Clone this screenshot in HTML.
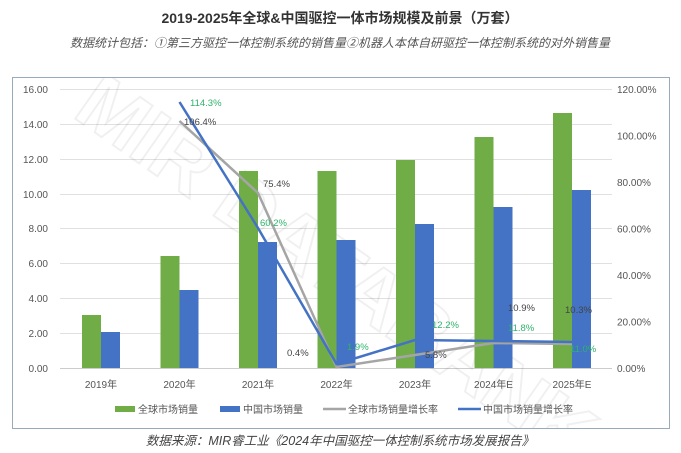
<!DOCTYPE html>
<html><head><meta charset="utf-8"><style>
body{margin:0;background:#fff;width:681px;height:453px;overflow:hidden;font-family:"Liberation Sans","Noto Sans CJK SC",sans-serif;}
svg{display:block}
</style></head><body>
<svg width="681" height="453" xmlns="http://www.w3.org/2000/svg" font-family="Liberation Sans, Noto Sans CJK SC, sans-serif">
<defs><clipPath id="c"><rect x="13" y="78" width="656" height="350"/></clipPath></defs>
<text x="340" y="23" text-anchor="middle" font-size="14" font-weight="bold" fill="#333">2019-2025年全球&amp;中国驱控一体市场规模及前景（万套）</text>
<text x="340" y="47" text-anchor="middle" font-size="12" font-style="italic" fill="#555">数据统计包括：①第三方驱控一体控制系统的销售量②机器人本体自研驱控一体控制系统的对外销售量</text>
<rect x="12.5" y="77.5" width="657" height="351" fill="none" stroke="#9ab" stroke-width="1"/>
<g stroke="#e0e0e0" stroke-width="1">
<line x1="60" x2="612" y1="89.5" y2="89.5"/><line x1="60" x2="612" y1="124.5" y2="124.5"/><line x1="60" x2="612" y1="159.5" y2="159.5"/><line x1="60" x2="612" y1="194.5" y2="194.5"/><line x1="60" x2="612" y1="228.5" y2="228.5"/><line x1="60" x2="612" y1="263.5" y2="263.5"/><line x1="60" x2="612" y1="298.5" y2="298.5"/><line x1="60" x2="612" y1="333.5" y2="333.5"/>
</g>
<line x1="60" x2="612" y1="368.5" y2="368.5" stroke="#ccc"/>
<g font-size="10" fill="#555" text-anchor="end">
<text x="48" y="93">16.00</text><text x="48" y="128">14.00</text><text x="48" y="163">12.00</text><text x="48" y="198">10.00</text><text x="48" y="232">8.00</text><text x="48" y="267">6.00</text><text x="48" y="302">4.00</text><text x="48" y="337">2.00</text><text x="48" y="372">0.00</text>
</g>
<g font-size="10" fill="#555" text-anchor="start">
<text x="617" y="93">120.00%</text><text x="617" y="139.5">100.00%</text><text x="617" y="186">80.00%</text><text x="617" y="232.5">60.00%</text><text x="617" y="279">40.00%</text><text x="617" y="325.5">20.00%</text><text x="617" y="372">0.00%</text>
</g>
<g clip-path="url(#c)">
<text x="60" y="150" font-size="80" fill="none" stroke="#000" stroke-opacity="0.06" stroke-width="2" transform="rotate(35 120 150)" font-weight="bold">MIR DATABANK</text>
</g>
<g fill="#70ad47">
<rect x="82" y="315" width="19" height="53"/><rect x="160.5" y="256" width="19" height="112"/><rect x="239" y="171" width="19" height="197"/><rect x="317.5" y="171" width="19" height="197"/><rect x="396" y="160" width="19" height="208"/><rect x="474.5" y="137" width="19" height="231"/><rect x="553" y="113" width="19" height="255"/>
</g>
<g fill="#4472c4">
<rect x="101" y="332" width="19" height="36"/><rect x="179.5" y="290" width="19" height="78"/><rect x="258" y="242" width="19" height="126"/><rect x="336.5" y="240" width="19" height="128"/><rect x="415" y="224" width="19" height="144"/><rect x="493.5" y="207" width="19" height="161"/><rect x="572" y="190" width="19" height="178"/>
</g>
<polyline points="179.5,121 258,193 336.5,367 415,355 493.5,343 572,344" fill="none" stroke="#a5a5a5" stroke-width="2.5"/>
<polyline points="179.5,102 258,228 336.5,364 415,340 493.5,341 572,342" fill="none" stroke="#4472c4" stroke-width="2.5"/>
<g font-size="9.5">
<text x="190" y="106" fill="#2db36b">114.3%</text>
<text x="184" y="125" fill="#444">106.4%</text>
<text x="263" y="187" fill="#444">75.4%</text>
<text x="260" y="226" fill="#2db36b">60.2%</text>
<text x="287" y="356" fill="#444">0.4%</text>
<text x="347" y="350" fill="#2db36b">1.9%</text>
<text x="425" y="358" fill="#444">5.8%</text>
<text x="432" y="328" fill="#2db36b">12.2%</text>
<text x="508" y="311" fill="#444">10.9%</text>
<text x="508" y="331" fill="#2db36b">11.8%</text>
<text x="565" y="313" fill="#444">10.3%</text>
<text x="570" y="352" fill="#2db36b">11.0%</text>
</g>
<g font-size="10" fill="#555" text-anchor="middle">
<text x="101" y="388">2019年</text><text x="179.5" y="388">2020年</text><text x="258" y="388">2021年</text><text x="336.5" y="388">2022年</text><text x="415" y="388">2023年</text><text x="493.5" y="388">2024年E</text><text x="572" y="388">2025年E</text>
</g>
<g font-size="10" fill="#555">
<rect x="115" y="406" width="20" height="6" fill="#70ad47"/><text x="138" y="413">全球市场销量</text>
<rect x="220" y="406" width="20" height="6" fill="#4472c4"/><text x="243" y="413">中国市场销量</text>
<line x1="323" x2="346" y1="409" y2="409" stroke="#a5a5a5" stroke-width="2.5"/><text x="348" y="413">全球市场销量增长率</text>
<line x1="458" x2="481" y1="409" y2="409" stroke="#4472c4" stroke-width="2.5"/><text x="483" y="413">中国市场销量增长率</text>
</g>
<text x="340" y="445" text-anchor="middle" font-size="12.5" font-style="italic" fill="#444">数据来源：MIR睿工业《2024年中国驱控一体控制系统市场发展报告》</text>
</svg>
</body></html>
